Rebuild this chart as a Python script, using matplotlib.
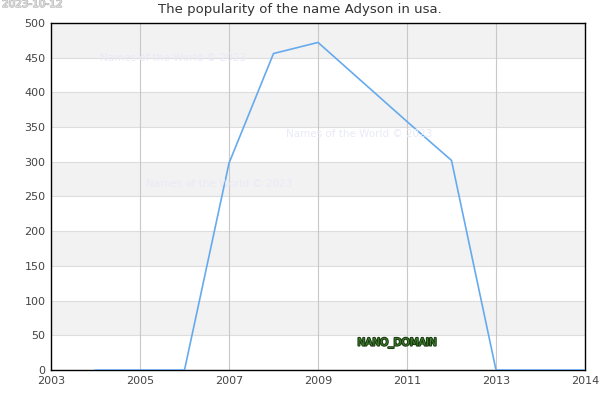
import matplotlib
matplotlib.use('Agg')
import matplotlib.pyplot as plt
import matplotlib.patheffects as pe

years = [2004, 2005, 2006, 2007, 2008, 2009, 2010, 2011, 2012, 2013, 2014, 2015]
counts = [0, 0, 0, 298, 456, 472, 415, 358, 302, 0, 0, 0]
x_ticks = [2003, 2005, 2007, 2009, 2011, 2013, 2015]
x_labels = ['2003', '2005', '2007', '2009', '2011', '2013', '2014']
y_ticks = list(range(0, 501, 50))

fig = plt.figure(figsize=(6, 4), dpi=100)
ax = fig.add_axes([0.085, 0.075, 0.89, 0.8675])

# alternating bands
for i, lo in enumerate(y_ticks[:-1]):
    if i % 2 == 1:
        ax.axhspan(lo, lo + 50, color='#f2f2f2', zorder=0, lw=0)
for y in y_ticks[1:-1]:
    ax.axhline(y, color='#dddddd', lw=0.8, zorder=1)
for x in x_ticks[1:-1]:
    ax.axvline(x, color='#c8c8c8', lw=0.8, zorder=1)

ax.plot(years, counts, color='#66aaee', lw=1.2, zorder=3)

ax.set_xlim(2003, 2015)
ax.set_ylim(0, 500)
ax.set_xticks(x_ticks)
ax.set_xticklabels(x_labels)
ax.set_yticks(y_ticks)
ax.tick_params(length=0, labelsize=8, colors='#444444', pad=4)
for s in ax.spines.values():
    s.set_color('black')
    s.set_linewidth(1)

fig.text(0.5, 1 - 10 / 400, 'The popularity of the name Adyson in usa.', fontsize=9.5,
         color='#333333', ha='center', va='center')

wm = 'Names of the World © 2023'
for fx, fy in [(100, 58), (286, 134), (146, 184)]:
    fig.text(fx / 600, 1 - fy / 400, wm, fontsize=7.5, color='#eaeaf8', va='center', ha='left', zorder=2)

fig.text(397 / 600, 1 - 343 / 400, 'NANO_DOMAIN', fontsize=7.5, color='#3f8030', ha='center', va='center',
         path_effects=[pe.withStroke(linewidth=1.5, foreground='#1a3a10')])
fig.text(2 / 600, 1 - 4 / 400, '2023-10-12', fontsize=7.5, color='#e0e0e0', ha='left', va='center',
         path_effects=[pe.withStroke(linewidth=1, foreground='#bbbbbb')])

fig.savefig('out.png', dpi=100)
